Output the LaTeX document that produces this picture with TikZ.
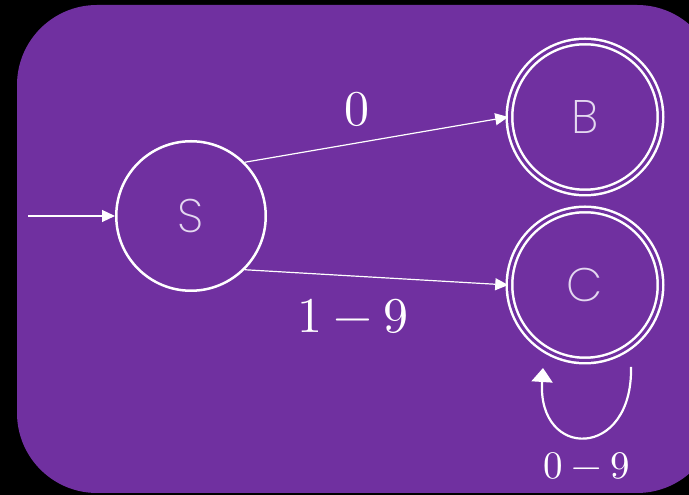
\documentclass[tikz,border=0pt]{standalone}
\usepackage{fontspec}
\usepackage{unicode-math}
\newfontfamily\statefont{Poppins ExtraLight}
\usetikzlibrary{arrows.meta}

\definecolor{fondo}{RGB}{112,48,160}
\definecolor{letra}{RGB}{228,216,240}

\tikzset{
  estado/.style={circle, draw=white, line width=2.5pt, minimum size=149.5pt,
    inner sep=0pt, text=letra, font=\statefont\fontsize{47}{50}\selectfont},
  final/.style={estado, double=fondo, double distance=3pt, minimum size=151pt},
  arista/.style={draw=white, line width=1.2pt, -{Triangle[width=12pt,length=13pt]}},
  bucle/.style={draw=white, line width=2.2pt, -{Triangle[width=21pt,length=14pt]}},
  etiqueta/.style={text=white, inner sep=0pt}
}

\begin{document}
\begin{tikzpicture}[x=1pt,y=1pt]
    \useasboundingbox (0,0) rectangle (689,495);
    % Fondo
    \fill[black] (0,0) rectangle (689,495);
    \fill[fondo, rounded corners=80pt] (17,2) rectangle (717,490);

    % Estados
    \node[estado] (S) at (191,279) {S};
    \node[final] (B) at (585,378) {B};
    \node[final] (C) at (585,210) {C};

    % Transiciones
    \coordinate (inicio) at (28,279);
    \draw[arista] (inicio) -- (S.west);
    \draw[arista] (S.45) -- (B.west);
    \draw[arista] (S.-45) -- (C.west);
    \node[etiqueta, font=\fontsize{50}{60}\selectfont] (l0) at (357,386) {$0$};
    \node[etiqueta, font=\fontsize{50}{60}\selectfont] (l19) at (353,179) {$1-9$};

    % Lazo sobre C
    \coordinate (lazoA) at ([shift={(46,-82)}]C.center);
    \coordinate (lazoB) at ([shift={(-42,-83)}]C.center);
    \draw[bucle] (lazoA) .. controls (633,35) and (537,35) .. (lazoB);
    \node[etiqueta, font=\fontsize{39}{46}\selectfont] (l09) at (587,29) {$0-9$};
\end{tikzpicture}
\end{document}
